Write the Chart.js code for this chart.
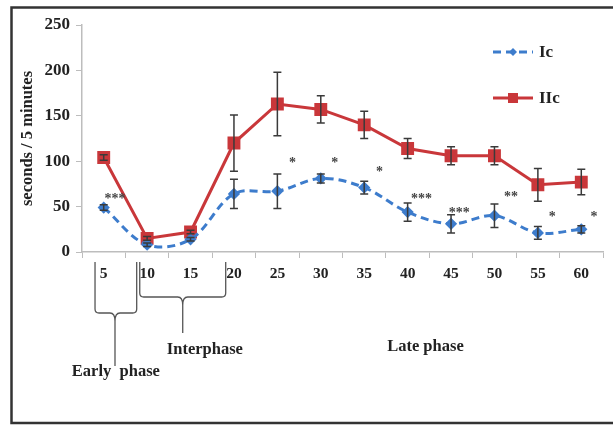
<!DOCTYPE html>
<html>
<head>
<meta charset="utf-8">
<script src="https://cdn.jsdelivr.net/npm/chart.js@4"></script>
<style>
  html, body { margin: 0; padding: 0; background: #fff; }
  #wrap { width: 613px; height: 425px; position: relative; }
</style>
</head>
<body>
<div id="wrap"><canvas id="c" width="613" height="425"></canvas></div>
<script>
// ---- data ----
const categories = ['5', '10', '15', '20', '25', '30', '35', '40', '45', '50', '55', '60'];
const icValues  = [49, 8, 14, 64, 67, 81, 71, 44, 31, 40, 21, 25];
const icErrors  = [3, 2, 2, 16, 19, 5, 7, 10, 10, 13, 7, 4];
const iicValues = [104, 15, 22, 120, 163, 157, 140, 114, 106, 106, 74, 77];
const iicErrors = [3, 2, 2, 31, 35, 15, 15, 11, 10, 10, 18, 14];
const yTicks = [0, 50, 100, 150, 200, 250];
// significance marks: category index (fractional), value, text
const sigPos   = [0.26, 4.35, 5.32, 6.35, 7.32, 8.19, 9.38, 10.33, 11.29];
const sigValue = [62, 102, 102, 92, 62, 47, 64, 42, 42];
const sigText  = ['***', '*', '*', '*', '***', '***', '**', '*', '*'];
const phaseNames = ['Early  phase', 'Interphase', 'Late phase'];

const FONT = '"Liberation Serif", "Times New Roman", serif';
const BLUE = '#3d7ccc';
const RED = '#c9373a';

const errorBars = {
  id: 'errorBars',
  afterDatasetsDraw(chart) {
    const ctx = chart.ctx;
    const x = chart.scales.x, y = chart.scales.y;
    const errs = [icErrors, iicErrors];
    ctx.save();
    ctx.strokeStyle = '#3a3a3a';
    ctx.lineWidth = 1.5;
    chart.data.datasets.forEach((ds, di) => {
      ds.data.forEach((v, i) => {
        const e = errs[di][i];
        if (!e) return;
        const px = x.getPixelForValue(i);
        const top = y.getPixelForValue(v + e);
        const bot = y.getPixelForValue(v - e);
        ctx.beginPath();
        ctx.moveTo(px, top); ctx.lineTo(px, bot);
        ctx.moveTo(px - 4, top); ctx.lineTo(px + 4, top);
        ctx.moveTo(px - 4, bot); ctx.lineTo(px + 4, bot);
        ctx.stroke();
      });
    });
    ctx.restore();
  }
};

const annotations = {
  id: 'annotations',
  beforeDraw(chart) {
    const ctx = chart.ctx;
    ctx.save();
    ctx.fillStyle = '#fff';
    ctx.fillRect(0, 0, chart.width, chart.height);
    // frame
    ctx.strokeStyle = '#333';
    ctx.lineWidth = 2.5;
    ctx.beginPath();
    ctx.moveTo(613, 7.5); ctx.lineTo(11.5, 7.5); ctx.lineTo(11.5, 423); ctx.lineTo(613, 423);
    ctx.stroke();
    ctx.restore();
  },
  afterDraw(chart) {
    const ctx = chart.ctx;
    const x = chart.scales.x, y = chart.scales.y;
    const base = chart.chartArea.bottom;
    ctx.save();
    // significance marks
    ctx.fillStyle = '#444';
    ctx.font = 'bold 14px ' + FONT;
    ctx.textAlign = 'center';
    ctx.textBaseline = 'middle';
    sigPos.forEach((p, k) => {
      ctx.fillText(sigText[k], x.getPixelForValue(p), y.getPixelForValue(sigValue[k]) + 4);
    });
    // phase brackets
    ctx.strokeStyle = '#555';
    ctx.lineWidth = 1.3;
    function brace(i0, i1, im, top, mid, tip) {
      const a = x.getPixelForValue(i0), b = x.getPixelForValue(i1), m = x.getPixelForValue(im);
      ctx.beginPath();
      ctx.moveTo(a, top);
      ctx.lineTo(a, mid - 4);
      ctx.quadraticCurveTo(a, mid, a + 4, mid);
      ctx.lineTo(m - 5, mid);
      ctx.quadraticCurveTo(m, mid, m, mid + 8);
      ctx.lineTo(m, tip);
      ctx.moveTo(b, top);
      ctx.lineTo(b, mid - 4);
      ctx.quadraticCurveTo(b, mid, b - 4, mid);
      ctx.lineTo(m + 5, mid);
      ctx.quadraticCurveTo(m, mid, m, mid + 8);
      ctx.stroke();
    }
    brace(-0.2, 0.76, 0.26, base + 10, base + 61, base + 114);
    brace(0.83, 2.81, 1.82, base + 10, base + 45, base + 81);
    ctx.fillStyle = '#222';
    ctx.font = 'bold 16.5px ' + FONT;
    ctx.fillText(phaseNames[0], x.getPixelForValue(0.28), base + 120);
    ctx.fillText(phaseNames[1], x.getPixelForValue(2.33), base + 98);
    ctx.fillText(phaseNames[2], x.getPixelForValue(7.41), base + 95);
    // legend
    const items = chart.data.datasets;
    const lx0 = 493, lx1 = 533;
    const ly = [52, 98];
    items.forEach((ds, k) => {
      ctx.strokeStyle = ds.borderColor;
      ctx.lineWidth = 3;
      ctx.setLineDash(ds.borderDash || []);
      ctx.beginPath();
      ctx.moveTo(lx0, ly[k]); ctx.lineTo(lx1, ly[k]);
      ctx.stroke();
      ctx.setLineDash([]);
      ctx.fillStyle = ds.pointBackgroundColor;
      const cx = (lx0 + lx1) / 2;
      if (ds.pointStyle === 'rect') {
        ctx.fillRect(cx - 5, ly[k] - 5, 10, 10);
      } else {
        ctx.beginPath();
        ctx.moveTo(cx, ly[k] - 4); ctx.lineTo(cx + 4, ly[k]); ctx.lineTo(cx, ly[k] + 4); ctx.lineTo(cx - 4, ly[k]);
        ctx.closePath(); ctx.fill();
      }
      ctx.fillStyle = '#222';
      ctx.font = 'bold 17px ' + FONT;
      ctx.textAlign = 'left';
      ctx.textBaseline = 'middle';
      ctx.fillText(ds.label, 539, ly[k] + 1);
    });
    ctx.restore();
  }
};

new Chart(document.getElementById('c'), {
  type: 'line',
  data: {
    labels: categories,
    datasets: [
      {
        label: 'Ic',
        data: icValues,
        borderColor: BLUE,
        backgroundColor: BLUE,
        pointBackgroundColor: BLUE,
        pointBorderColor: BLUE,
        borderWidth: 3,
        borderDash: [8, 5],
        pointStyle: 'rectRot',
        pointRadius: 4,
        tension: 0.35,
        cubicInterpolationMode: 'default'
      },
      {
        label: 'IIc',
        data: iicValues,
        borderColor: RED,
        backgroundColor: RED,
        pointBackgroundColor: RED,
        pointBorderColor: RED,
        borderWidth: 3,
        pointStyle: 'rect',
        pointRadius: 7,
        tension: 0
      }
    ]
  },
  options: {
    responsive: false,
    animation: false,
    layout: { padding: { left: 0, top: 25, right: 10, bottom: 0 } },
    plugins: { legend: { display: false }, tooltip: { enabled: false } },
    scales: {
      x: {
        type: 'category',
        offset: true,
        grid: { offset: true, drawOnChartArea: false, drawTicks: true, tickLength: 6, color: '#bdbdbd', lineWidth: 1 },
        border: { display: true, color: '#bdbdbd', width: 1.5 },
        ticks: { color: '#222', font: { family: FONT, size: 15.5, weight: 'bold' }, padding: 7, maxRotation: 0, autoSkip: false },
        afterFit(s) { s.height = 173; }
      },
      y: {
        min: 0, max: 250,
        afterBuildTicks(s) { s.ticks = yTicks.map(v => ({ value: v })); },
        grid: { drawOnChartArea: false, drawTicks: true, tickLength: 6, color: '#bdbdbd' },
        border: { display: true, color: '#bdbdbd', width: 1.5 },
        ticks: { color: '#222', font: { family: FONT, size: 17, weight: 'bold' }, padding: 6 },
        title: { display: true, text: 'seconds / 5 minutes', color: '#222', font: { family: FONT, size: 16.5, weight: 'bold' }, padding: { top: 18, bottom: 0 } },
        afterFit(s) { s.width = 82; }
      }
    }
  },
  plugins: [annotations, errorBars]
});
</script>
</body>
</html>
